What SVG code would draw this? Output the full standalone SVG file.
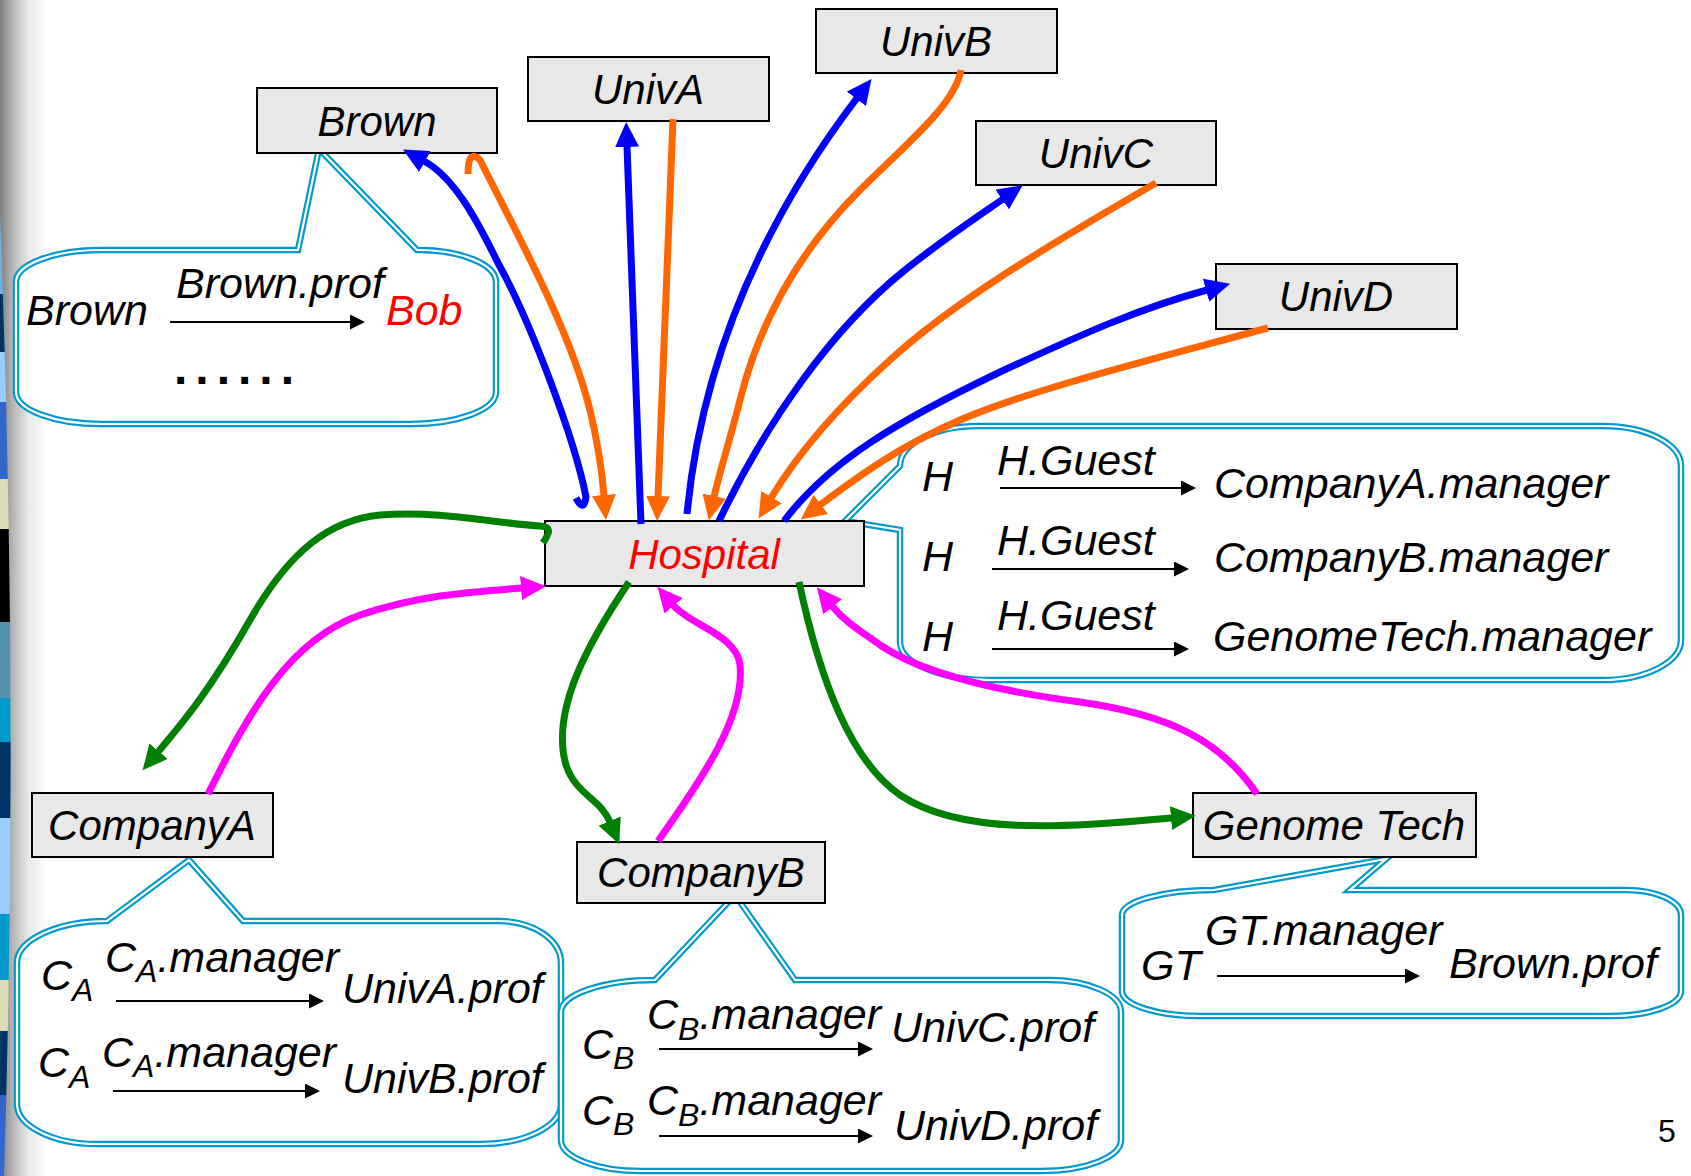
<svg xmlns="http://www.w3.org/2000/svg" xmlns:xlink="http://www.w3.org/1999/xlink" width="1691" height="1176" viewBox="0 0 1691 1176">
  <style>
    .t { font-family: "Liberation Sans", Arial, sans-serif; font-style: italic; fill: #000; }
    .red { fill: #FF0000; }
    .nb { fill: #E8E8E8; stroke: #000; stroke-width: 2; }
    .nt { font-size: 42px; text-anchor: middle; }
    .ct { font-size: 43px; }
    .sub { font-size: 32px; }
    .co { fill: #fff; stroke: #0099CC; stroke-width: 6.5; stroke-linejoin: miter; stroke-miterlimit: 6; }
    .ci { fill: none; stroke: #fff; stroke-width: 2.2; stroke-linejoin: miter; stroke-miterlimit: 6; }
    .ar { stroke: #000; stroke-width: 2; fill: none; marker-end: url(#ak); }
    .c { fill: none; stroke-width: 7; stroke-linejoin: round; }
    .blue { stroke: #0000FF; marker-end: url(#hb); }
    .orange { stroke: #FF6600; marker-end: url(#ho); }
    .green { stroke: #008000; marker-end: url(#hg); }
    .mag { stroke: #FF00FF; marker-end: url(#hm); }
  </style>
  <defs>
    <linearGradient id="edge" x1="0" y1="0" x2="1" y2="0">
      <stop offset="0" stop-color="#7d7d7d"/>
      <stop offset="0.25" stop-color="#b3b3b3"/>
      <stop offset="0.6" stop-color="#e9e9e9"/>
      <stop offset="1" stop-color="#ffffff"/>
    </linearGradient>
    <clipPath id="stripClip">
      <path d="M0,212 Q 19,700 4,1176 L0,1176 Z"/>
    </clipPath>
    <marker id="hb" markerUnits="userSpaceOnUse" viewBox="0 0 26 24" markerWidth="26" markerHeight="24" refX="1" refY="12" orient="auto"><path d="M0,0 L25,12 L0,24 Z" fill="#0000FF"/></marker>
    <marker id="ho" markerUnits="userSpaceOnUse" viewBox="0 0 26 24" markerWidth="26" markerHeight="24" refX="1" refY="12" orient="auto"><path d="M0,0 L25,12 L0,24 Z" fill="#FF6600"/></marker>
    <marker id="hg" markerUnits="userSpaceOnUse" viewBox="0 0 26 24" markerWidth="26" markerHeight="24" refX="1" refY="12" orient="auto"><path d="M0,0 L25,12 L0,24 Z" fill="#008000"/></marker>
    <marker id="hm" markerUnits="userSpaceOnUse" viewBox="0 0 26 24" markerWidth="26" markerHeight="24" refX="1" refY="12" orient="auto"><path d="M0,0 L25,12 L0,24 Z" fill="#FF00FF"/></marker>
    <marker id="ak" markerUnits="userSpaceOnUse" viewBox="0 0 16 15" markerWidth="16" markerHeight="15" refX="1" refY="7.5" orient="auto"><path d="M0,0 L15,7.5 L0,15 Z" fill="#000"/></marker>
    <path id="cbBrown" d="M16,282 A85,32 0 0 1 101,250 L298,250 L319,149 L417,250 L418,250 A78,32 0 0 1 496,282 L496,392 A85,32 0 0 1 411,424 L101,424 A85,32 0 0 1 16,392 Z"/>
    <path id="cbHosp" d="M900,466 A78,40 0 0 1 978,426 L1603,426 A78,40 0 0 1 1681,466 L1681,640 A78,40 0 0 1 1603,680 L990,680 A90,38 0 0 1 900,642 L900,530 L845,521 Z"/>
    <path id="cbCoA" d="M17,963 A90,42 0 0 1 107,921 L189,860 L243,921 L499,921 A62,42 0 0 1 561,963 L561,1104 A80,40 0 0 1 481,1144 L97,1144 A80,40 0 0 1 17,1104 Z"/>
    <path id="cbCoB" d="M561,1012 A94,32 0 0 1 655,980 L735,895 L795,980 L1049,980 A72,32 0 0 1 1121,1012 L1121,1140 A80,31 0 0 1 1041,1171 L641,1171 A80,31 0 0 1 561,1140 Z"/>
    <path id="cbGT" d="M1122,915 A92,25 0 0 1 1214,890 L1386,859 L1350,890 L1626,890 A55,25 0 0 1 1681,915 L1681,991 A70,25 0 0 1 1611,1016 L1200,1016 A78,25 0 0 1 1122,991 Z"/>
  </defs>

  <rect width="1691" height="1176" fill="#fff"/>

  <!-- shaded left margin with coloured bands -->
  <g id="margin">
    <rect x="0" y="0" width="48" height="1176" fill="url(#edge)"/>
    <g clip-path="url(#stripClip)">
      <rect x="0" y="212" width="20" height="82" fill="#6fb3e0"/>
      <rect x="0" y="294" width="20" height="58" fill="#003366"/>
      <rect x="0" y="352" width="20" height="50" fill="#99CCFF"/>
      <rect x="0" y="402" width="20" height="77" fill="#3366CC"/>
      <rect x="0" y="479" width="20" height="50" fill="#DDDDB5"/>
      <rect x="0" y="529" width="20" height="93" fill="#000000"/>
      <rect x="0" y="622" width="20" height="76" fill="#5591AA"/>
      <rect x="0" y="698" width="20" height="44" fill="#0099CC"/>
      <rect x="0" y="742" width="20" height="76" fill="#003366"/>
      <rect x="0" y="818" width="20" height="96" fill="#99CCFF"/>
      <rect x="0" y="914" width="20" height="66" fill="#0099CC"/>
      <rect x="0" y="980" width="20" height="51" fill="#DDDDB5"/>
      <rect x="0" y="1031" width="20" height="64" fill="#003366"/>
      <rect x="0" y="1095" width="20" height="81" fill="#3366CC"/>
    </g>
  </g>

  <!-- callouts -->
  <g id="callout-brown">
    <use xlink:href="#cbBrown" class="co"/>
    <use xlink:href="#cbBrown" class="ci"/>
    <text class="t ct" x="26" y="325">Brown</text>
    <text class="t ct" x="176" y="298">Brown.prof</text>
    <line class="ar" x1="170" y1="322" x2="351" y2="322"/>
    <text class="t ct red" x="386" y="325">Bob</text>
    <text x="174" y="384" font-family="Liberation Sans, Arial, sans-serif" font-size="48" font-weight="bold" letter-spacing="8">......</text>
  </g>

  <g id="callout-hospital">
    <use xlink:href="#cbHosp" class="co"/>
    <use xlink:href="#cbHosp" class="ci"/>
    <text class="t ct" x="922" y="491">H</text>
    <text class="t ct" x="997" y="475">H.Guest</text>
    <line class="ar" x1="1000" y1="488" x2="1182" y2="488"/>
    <text class="t ct" x="1214" y="498">CompanyA.manager</text>
    <text class="t ct" x="922" y="571">H</text>
    <text class="t ct" x="997" y="555">H.Guest</text>
    <line class="ar" x1="992" y1="569" x2="1175" y2="569"/>
    <text class="t ct" x="1214" y="572">CompanyB.manager</text>
    <text class="t ct" x="922" y="651">H</text>
    <text class="t ct" x="997" y="630">H.Guest</text>
    <line class="ar" x1="992" y1="649" x2="1175" y2="649"/>
    <text class="t ct" x="1213" y="651">GenomeTech.manager</text>
  </g>

  <g id="callout-companyA">
    <use xlink:href="#cbCoA" class="co"/>
    <use xlink:href="#cbCoA" class="ci"/>
    <text class="t ct" x="41" y="990">C<tspan class="sub" dy="11">A</tspan></text>
    <text class="t ct" x="105" y="972">C<tspan class="sub" dy="10">A</tspan><tspan dy="-10">.manager</tspan></text>
    <line class="ar" x1="116" y1="1001" x2="310" y2="1001"/>
    <text class="t ct" x="342" y="1003">UnivA.prof</text>
    <text class="t ct" x="38" y="1077">C<tspan class="sub" dy="11">A</tspan></text>
    <text class="t ct" x="102" y="1067">C<tspan class="sub" dy="10">A</tspan><tspan dy="-10">.manager</tspan></text>
    <line class="ar" x1="113" y1="1091" x2="306" y2="1091"/>
    <text class="t ct" x="342" y="1093">UnivB.prof</text>
  </g>

  <g id="callout-companyB">
    <use xlink:href="#cbCoB" class="co"/>
    <use xlink:href="#cbCoB" class="ci"/>
    <text class="t ct" x="582" y="1059">C<tspan class="sub" dy="10">B</tspan></text>
    <text class="t ct" x="647" y="1029">C<tspan class="sub" dy="11">B</tspan><tspan dy="-11">.manager</tspan></text>
    <line class="ar" x1="659" y1="1049" x2="859" y2="1049"/>
    <text class="t ct" x="891" y="1042">UnivC.prof</text>
    <text class="t ct" x="582" y="1125">C<tspan class="sub" dy="10">B</tspan></text>
    <text class="t ct" x="647" y="1115">C<tspan class="sub" dy="11">B</tspan><tspan dy="-11">.manager</tspan></text>
    <line class="ar" x1="659" y1="1136" x2="859" y2="1136"/>
    <text class="t ct" x="894" y="1140">UnivD.prof</text>
  </g>

  <g id="callout-genometech">
    <use xlink:href="#cbGT" class="co"/>
    <use xlink:href="#cbGT" class="ci"/>
    <text class="t ct" x="1141" y="980">GT</text>
    <text class="t ct" x="1205" y="945">GT.manager</text>
    <line class="ar" x1="1217" y1="976" x2="1406" y2="976"/>
    <text class="t ct" x="1449" y="978">Brown.prof</text>
  </g>

  <!-- nodes -->
  <g id="node-brown">
    <rect class="nb" x="257" y="88" width="240" height="65"/>
    <text class="t nt" x="377" y="136">Brown</text>
  </g>
  <g id="node-univA">
    <rect class="nb" x="528" y="57" width="241" height="64"/>
    <text class="t nt" x="648" y="104">UnivA</text>
  </g>
  <g id="node-univB">
    <rect class="nb" x="816" y="9" width="241" height="64"/>
    <text class="t nt" x="936" y="56">UnivB</text>
  </g>
  <g id="node-univC">
    <rect class="nb" x="976" y="121" width="240" height="64"/>
    <text class="t nt" x="1096" y="168">UnivC</text>
  </g>
  <g id="node-univD">
    <rect class="nb" x="1216" y="264" width="241" height="65"/>
    <text class="t nt" x="1336" y="311">UnivD</text>
  </g>
  <g id="node-hospital">
    <rect class="nb" x="545" y="521" width="319" height="65"/>
    <text class="t nt red" x="704" y="569" font-size="43">Hospital</text>
  </g>
  <g id="node-companyA">
    <rect class="nb" x="32" y="793" width="241" height="64"/>
    <text class="t nt" x="152" y="840">CompanyA</text>
  </g>
  <g id="node-companyB">
    <rect class="nb" x="577" y="842" width="248" height="61"/>
    <text class="t nt" x="701" y="887">CompanyB</text>
  </g>
  <g id="node-genometech">
    <rect class="nb" x="1193" y="793" width="283" height="64"/>
    <text class="t nt" x="1334" y="840">Genome Tech</text>
  </g>

  <!-- connectors -->
  <g id="connectors">
    <path class="c blue" d="M576,498 Q584,513 586,497 C575,440 530,320 498,263 C478,222 455,178 424,161"/>
    <path class="c orange" d="M468,174 Q468,148 480,160 C520,240 570,330 590,410 C597,440 602,470 604,496"/>
    <path class="c blue" d="M641,524 L627,146"/>
    <path class="c orange" d="M673,119 L658,497"/>
    <path class="c blue" d="M687,514 Q708,294 857,98"/>
    <path class="c orange" d="M961,70 C955,105 905,145 860,190 C800,250 760,320 740,400 C730,440 720,470 714,497"/>
    <path class="c blue" d="M719,521 C765,425 830,330 905,270 C940,242 970,222 1003,199"/>
    <path class="c orange" d="M1156,183 C1040,250 950,305 890,360 C840,405 800,450 771,498"/>
    <path class="c blue" d="M784,521 C830,460 900,420 1000,372 C1080,335 1140,308 1207,290"/>
    <path class="c orange" d="M1268,328 C1150,360 1030,390 960,420 C900,446 860,475 820,505"/>
    <path class="c green" d="M543,543 C550,532 552,527 540,526 C500,524 440,510 380,515 C330,520 290,550 250,620 C210,690 185,720 158,752"/>
    <path class="c mag" d="M208,794 C250,710 290,640 360,615 C420,595 470,592 522,588"/>
    <path class="c green" d="M629,582 C590,640 550,710 566,765 C576,795 600,798 610,822"/>
    <path class="c mag" d="M658,841 C705,775 745,715 740,665 C737,635 690,625 673,605"/>
    <path class="c green" d="M799,582 C820,680 850,760 900,795 C960,835 1060,828 1172,818"/>
    <path class="c mag" d="M1257,794 C1220,740 1170,715 1080,702 C990,690 920,672 880,645 C862,632 845,622 832,606"/>
  </g>

  <text x="1658" y="1142" font-family="Liberation Sans, Arial, sans-serif" font-size="32">5</text>
</svg>
